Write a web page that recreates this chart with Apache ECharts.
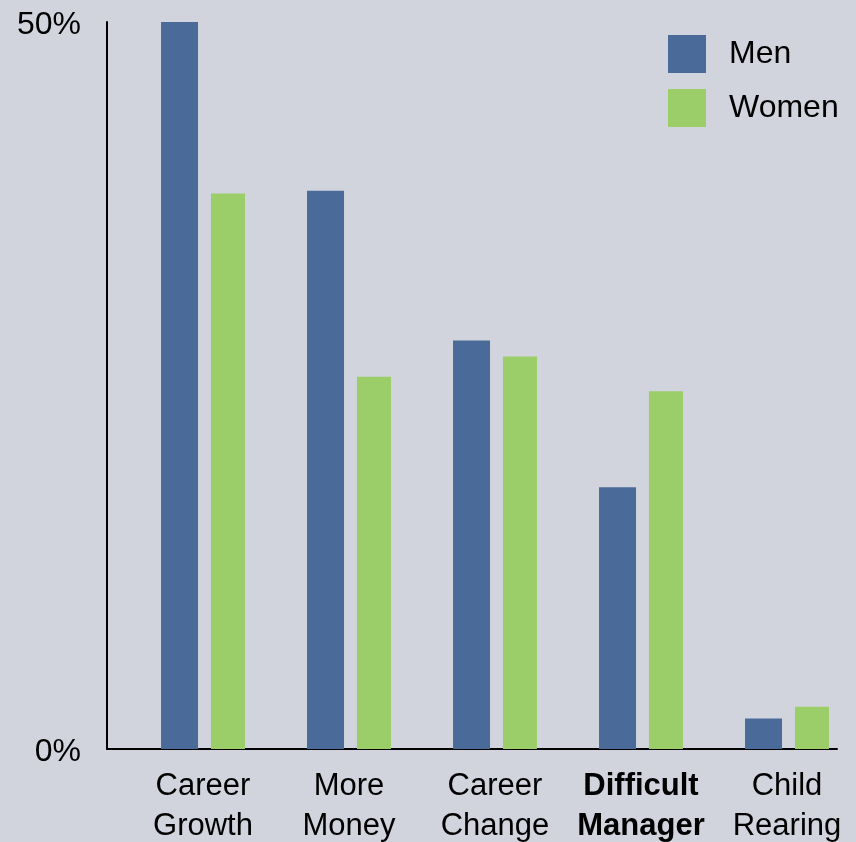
<!DOCTYPE html>
<html>
<head>
<meta charset="utf-8">
<script src="https://cdn.jsdelivr.net/npm/echarts@6/dist/echarts.min.js"></script>
<style>
html,body{margin:0;padding:0;background:#d1d4dc;}
#c{width:856px;height:842px;}
</style>
</head>
<body>
<div id="c"></div>
<script>
const categories = ['Career\nGrowth', 'More\nMoney', 'Career\nChange', 'Difficult\nManager', 'Child\nRearing'];
const boldCategory = 'Difficult\nManager';
const menValues = [50, 38.4, 28.1, 18.0, 2.1];
const womenValues = [38.2, 25.6, 27.0, 24.6, 2.9];
const yTicks = [0, 50];

const font = '"Liberation Sans", Arial, sans-serif';
const chart = echarts.init(document.getElementById('c'));
chart.setOption({
  backgroundColor: '#d1d4dc',
  animation: false,
  textStyle: { fontFamily: font },
  legend: {
    orient: 'vertical',
    left: 663, top: 30,
    itemWidth: 38, itemHeight: 38, itemGap: 16,
    icon: 'rect',
    textStyle: { fontSize: 32, color: '#000', fontFamily: font, padding: [0, 0, 0, 18] },
    data: ['Men', 'Women']
  },
  grid: [
    { left: 107, width: 730, top: 22, bottom: 93, outerBoundsMode: 'none', containLabel: false },
    { left: 130, width: 730, top: 22, bottom: 93, outerBoundsMode: 'none', containLabel: false }
  ],
  xAxis: [
    {
      type: 'category', gridIndex: 0, data: categories,
      axisLine: { show: true, lineStyle: { color: '#000', width: 2 } },
      axisTick: { show: false }, axisLabel: { show: false }
    },
    {
      type: 'category', gridIndex: 1,
      data: categories.map(c => c === boldCategory ? { value: c, textStyle: { fontWeight: 'bold' } } : c),
      axisLine: { show: false }, axisTick: { show: false },
      axisLabel: { fontSize: 31, color: '#000', fontFamily: font, lineHeight: 40, margin: 17, interval: 0 }
    }
  ],
  yAxis: [
    {
      type: 'value', gridIndex: 0, min: yTicks[0], max: yTicks[1], interval: 50,
      axisLine: { show: true, lineStyle: { color: '#000', width: 2 } },
      axisTick: { show: false }, splitLine: { show: false },
      axisLabel: {
        color: '#000', fontFamily: font, margin: 26,
        formatter: v => '{a|' + v + '%}',
        rich: { a: { fontSize: 32, color: '#000', fontFamily: font, padding: [6, 0, 0, 0] } }
      }
    },
    {
      type: 'value', gridIndex: 1, min: yTicks[0], max: yTicks[1], interval: 50,
      show: false, splitLine: { show: false }
    }
  ],
  series: [
    { name: 'Men', type: 'bar', xAxisIndex: 1, yAxisIndex: 1, data: menValues,
      barWidth: 37, barGap: '35%', itemStyle: { color: '#4a6b9a' } },
    { name: 'Women', type: 'bar', xAxisIndex: 1, yAxisIndex: 1, data: womenValues,
      barWidth: 34, barGap: '35%', itemStyle: { color: '#9bcd68' } }
  ]
});
</script>
</body>
</html>
